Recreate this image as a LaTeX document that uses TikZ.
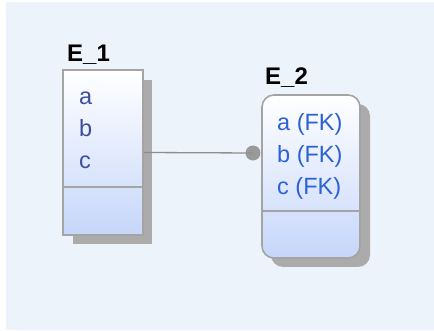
\documentclass[tikz,border=0pt]{standalone}
\usepackage{fontspec}
\setmainfont{Liberation Sans}
\definecolor{bgc}{HTML}{EDF3FA}
\definecolor{bordc}{HTML}{A4A4A4}
\definecolor{shadc}{HTML}{ABABAB}
\definecolor{boxbot}{HTML}{C6D6FA}
\definecolor{txtA}{HTML}{3E4E9E}
\definecolor{txtB}{HTML}{2C62D6}
\definecolor{linec}{HTML}{8E8E8E}
\definecolor{dotc}{HTML}{9A9A9A}
\begin{document}
\begin{tikzpicture}[x=1pt,y=-1pt,
  ent/.style={draw=bordc,line width=1.6pt,top color=white,bottom color=boxbot,inner sep=0pt},
  shad/.style={fill=shadc,draw=none},
  title/.style={font=\bfseries\fontsize{24}{24}\selectfont,anchor=base west,inner sep=0pt},
  attr/.style={font=\fontsize{23.5}{32}\selectfont,anchor=north west,align=left,inner sep=0pt}]
\useasboundingbox (0,0) rectangle (434,331);
\fill[bgc] (6,2) rectangle (434,330);
% E_1
\fill[shad] (73,80) rectangle (152,244);
\node[ent,minimum width=80pt,minimum height=165pt] (e1) at (103,152.5) {};
\draw[bordc,line width=1.3pt] (63,187) -- (143,187);
\node[title] (t1) at (67,62) {E\_1};
\node[attr,text=txtA] (a1) at (79,92) {a\\b\\c};
% E_2
\fill[shad,rounded corners=12pt] (271,104) rectangle (370,267);
\node[ent,rounded corners=12pt,minimum width=98pt,minimum height=163pt] (e2) at (311,176.5) {};
\draw[bordc,line width=1.3pt] (262,211) -- (360,211);
\node[title] (t2) at (265,85) {E\_2};
\node[attr,text=txtB] (a2) at (277,113) {a (FK)\\b (FK)\\c (FK)};
% connector
\node[circle,fill=dotc,minimum size=15pt,inner sep=0pt] (fk) at (253,153) {};
\draw[linec,line width=1.3pt] (e1.east) -- (fk.center);
\end{tikzpicture}
\end{document}
